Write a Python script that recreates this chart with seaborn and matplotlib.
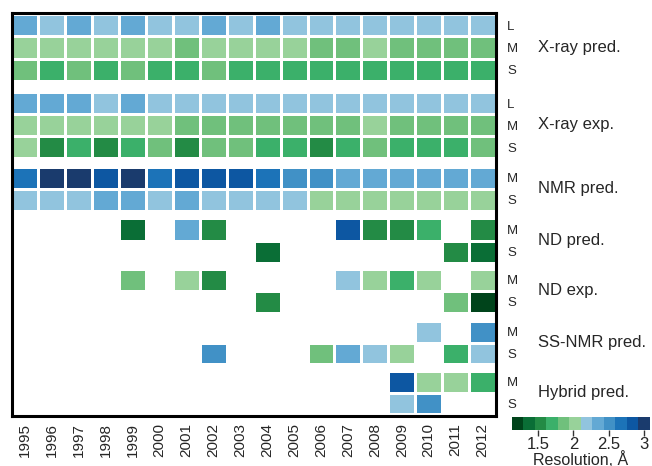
import numpy as np
import pandas as pd
import matplotlib
matplotlib.use("Agg")
import matplotlib.pyplot as plt
from matplotlib.colors import ListedColormap
import seaborn as sns

# ─────────────────────────────────────────────
# Data: resolution in Å per year, NaN = no entry
# ─────────────────────────────────────────────
n = np.nan
years = list(range(1995, 2013))

xray_pred_L = [2.36, 2.2, 2.36, 2.2, 2.36, 2.2, 2.2, 2.36, 2.2, 2.36, 2.2, 2.2, 2.2, 2.2, 2.2, 2.2, 2.2, 2.2]
xray_pred_M = [2.03, 2.03, 2.03, 2.03, 2.03, 2.03, 1.87, 2.03, 2.03, 2.03, 2.03, 1.87, 1.87, 2.03, 1.87, 1.87, 1.87, 1.87]
xray_pred_S = [1.87, 1.7, 1.87, 1.7, 1.87, 1.7, 1.7, 1.87, 1.7, 1.7, 1.7, 1.7, 1.7, 1.7, 1.7, 1.7, 1.7, 1.7]

xray_exp_L = [2.36, 2.36, 2.36, 2.2, 2.36, 2.2, 2.2, 2.2, 2.2, 2.2, 2.2, 2.2, 2.2, 2.2, 2.2, 2.2, 2.2, 2.2]
xray_exp_M = [2.03, 2.03, 2.03, 2.03, 2.03, 2.03, 1.87, 1.87, 1.87, 1.87, 1.87, 1.87, 1.87, 2.03, 1.87, 1.87, 1.87, 1.87]
xray_exp_S = [2.03, 1.54, 1.7, 1.54, 1.7, 1.87, 1.54, 1.87, 1.87, 1.7, 1.7, 1.54, 1.7, 1.87, 1.7, 1.7, 1.7, 1.87]

nmr_pred_M = [2.69, 3.02, 3.02, 2.85, 3.02, 2.69, 2.85, 2.85, 2.85, 2.69, 2.52, 2.52, 2.36, 2.36, 2.36, 2.36, 2.36, 2.36]
nmr_pred_S = [2.2, 2.2, 2.2, 2.36, 2.36, 2.2, 2.36, 2.2, 2.2, 2.2, 2.2, 2.03, 2.03, 2.03, 2.03, 2.03, 2.03, 2.03]

nd_pred_M = [n, n, n, n, 1.37, n, 2.36, 1.54, n, n, n, n, 2.85, 1.54, 1.54, 1.7, n, 1.54]
nd_pred_S = [n, n, n, n, n, n, n, n, n, 1.37, n, n, n, n, n, n, 1.54, 1.37]

nd_exp_M = [n, n, n, n, 1.87, n, 2.03, 1.54, n, n, n, n, 2.2, 2.03, 1.7, 2.03, n, 2.03]
nd_exp_S = [n, n, n, n, n, n, n, n, n, 1.54, n, n, n, n, n, n, 1.87, 1.2]

ss_nmr_M = [n, n, n, n, n, n, n, n, n, n, n, n, n, n, n, 2.2, n, 2.52]
ss_nmr_S = [n, n, n, n, n, n, n, 2.52, n, n, n, 1.87, 2.36, 2.2, 2.03, n, 1.7, 2.2]

hybrid_M = [n, n, n, n, n, n, n, n, n, n, n, n, n, n, 2.85, 2.03, 2.03, 1.7]
hybrid_S = [n, n, n, n, n, n, n, n, n, n, n, n, n, n, 2.2, 2.52, n, n]

group_names = ["X-ray pred.", "X-ray exp.", "NMR pred.", "ND pred.",
               "ND exp.", "SS-NMR pred.", "Hybrid pred."]
group_rows = [
    (["L", "M", "S"], [xray_pred_L, xray_pred_M, xray_pred_S]),
    (["L", "M", "S"], [xray_exp_L, xray_exp_M, xray_exp_S]),
    (["M", "S"], [nmr_pred_M, nmr_pred_S]),
    (["M", "S"], [nd_pred_M, nd_pred_S]),
    (["M", "S"], [nd_exp_M, nd_exp_S]),
    (["M", "S"], [ss_nmr_M, ss_nmr_S]),
    (["M", "S"], [hybrid_M, hybrid_S]),
]

# ─────────────────────────────────────────────
# Layout (pixel boxes on a 652x466 canvas)
# ─────────────────────────────────────────────
W, H = 652, 466
X0, X1 = 11.5, 496.0
group_tops = [14, 92, 167, 218, 269, 321, 371]
group_bots = [81, 158, 211, 263, 313, 364, 414]

VMIN, VMAX = 1.12, 3.09
colors = ["#00441b", "#0a6e36", "#238b45", "#3bb06a", "#70c07c", "#98d29a",
          "#91c4de", "#63a9d4", "#4191c6", "#1c73b8", "#0d57a2", "#1a3b6d"]
cmap = ListedColormap(colors)


def box(x0, y0, x1, y1):
    return [x0 / W, 1 - y1 / H, (x1 - x0) / W, (y1 - y0) / H]


sns.set_style("white")
plt.rcParams["font.family"] = ["Liberation Sans", "DejaVu Sans"]

fig = plt.figure(figsize=(W / 100, H / 100), dpi=100)
cax = fig.add_axes(box(511.7, 417, 650, 430))

cbar = None
for i, (name, (labels, rows)) in enumerate(zip(group_names, group_rows)):
    top, bot = group_tops[i], group_bots[i]
    ax = fig.add_axes(box(X0, top, X1, bot))
    df = pd.DataFrame(rows, index=labels, columns=years)
    first = i == 0
    sns.heatmap(df, ax=ax, cmap=cmap, vmin=VMIN, vmax=VMAX,
                linewidths=2.0, linecolor="white",
                xticklabels=False, yticklabels=labels,
                cbar=first, cbar_ax=cax if first else None,
                cbar_kws={"orientation": "horizontal",
                          "ticks": [1.5, 2, 2.5, 3], "format": "%g"} if first else None)
    if first:
        cbar = ax.collections[0].colorbar
    ax.yaxis.tick_right()
    ax.tick_params(axis="y", length=0, pad=8, labelsize=9.5, labelrotation=0)
    ax.set_xlabel(""); ax.set_ylabel("")
    fig.text(538 / W, 1 - (top + bot) / 2 / H, name,
             ha="left", va="center", fontsize=12)

# colorbar styling
cbar.outline.set_visible(False)
cax.tick_params(axis="x", length=4, width=1, pad=1, labelsize=12, color="#333333")
cax.set_xlabel("Resolution, Å", fontsize=11.5, labelpad=-1)

# black frame around all groups + year labels
frame = fig.add_axes(box(X0, 12.7, X1, 416.3))
frame.set_facecolor("none")
frame.set_xlim(0, len(years)); frame.set_ylim(0, 1)
frame.set_xticks(np.arange(len(years)) + 0.5)
frame.set_xticklabels([str(y) for y in years], rotation=90, fontsize=11)
frame.set_yticks([])
frame.tick_params(axis="x", length=0, pad=5)
for sp in frame.spines.values():
    sp.set_visible(True)
    sp.set_color("black")
    sp.set_linewidth(2.2)

fig.savefig("out.png", dpi=100)
